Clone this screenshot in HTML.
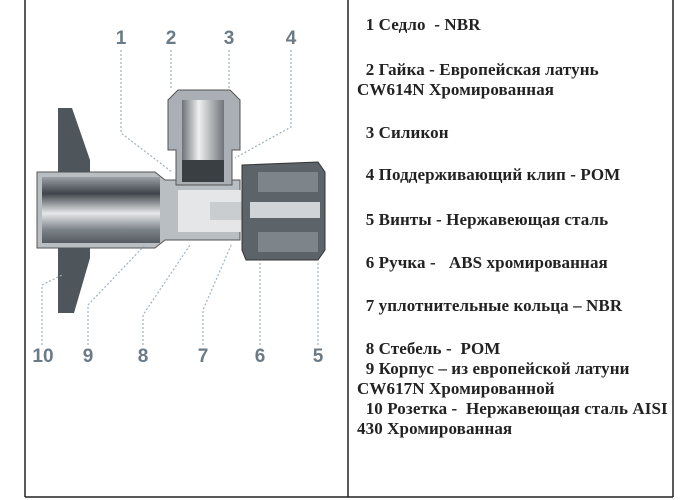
<!DOCTYPE html>
<html><head><meta charset="utf-8"><style>
body{margin:0;background:#fff;width:700px;height:500px;overflow:hidden;position:relative;font-family:"Liberation Serif",serif}
.t{position:absolute;font-weight:bold;font-size:17px;color:#222;white-space:pre;line-height:20px;letter-spacing:0.1px}
</style></head><body>
<svg width="700" height="500" style="position:absolute;left:0;top:0">
<defs>
<linearGradient id="pipe" x1="0" y1="0" x2="0" y2="1">
<stop offset="0" stop-color="#9aa0a6"/><stop offset="0.25" stop-color="#3e444a"/><stop offset="0.55" stop-color="#e6e8ea"/><stop offset="0.8" stop-color="#7b8288"/><stop offset="1" stop-color="#555b60"/></linearGradient>
<linearGradient id="nut" x1="0" y1="0" x2="1" y2="0">
<stop offset="0" stop-color="#6d7378"/><stop offset="0.4" stop-color="#eef0f1"/><stop offset="1" stop-color="#70767b"/></linearGradient>
</defs>
<line x1="25" y1="0" x2="25" y2="497" stroke="#222" stroke-width="1.5"/>
<line x1="348" y1="0" x2="348" y2="497" stroke="#222" stroke-width="1.5"/>
<line x1="673" y1="0" x2="673" y2="497" stroke="#222" stroke-width="1.5"/>
<line x1="25" y1="497" x2="673" y2="497" stroke="#222" stroke-width="1.5"/>
<path d="M58 108 L72 108 L90 160 L90 172 L58 172 Z" fill="#4e555b"/>
<path d="M58 248 L90 248 L90 258 L74 313 L58 313 Z" fill="#4e555b"/>
<path d="M37 172 L155 172 L165 180 L240 180 L240 240 L165 240 L155 248 L37 248 Z" fill="#b9bec2" stroke="#555" stroke-width="1"/>
<rect x="42" y="177" width="118" height="66" fill="url(#pipe)"/>
<rect x="178" y="190" width="70" height="42" fill="#e4e6e8"/>
<rect x="210" y="202" width="70" height="18" fill="#c9cdd0"/>
<path d="M168 100 L178 90 L230 90 L240 100 L240 150 L232 150 L232 185 L176 185 L176 150 L168 150 Z" fill="#a9afb4" stroke="#555"/>
<rect x="182" y="100" width="42" height="60" fill="url(#nut)"/>
<rect x="182" y="160" width="42" height="22" fill="#3a3f44"/>
<path d="M242 165 L318 162 L325 172 L325 250 L318 260 L246 260 L242 250 Z" fill="#5c6369" stroke="#333"/>
<rect x="258" y="172" width="60" height="20" fill="#7d848a"/>
<rect x="258" y="232" width="60" height="20" fill="#7d848a"/>
<rect x="250" y="202" width="70" height="16" fill="#d0d4d7"/>
<g stroke="#9fb2bf" stroke-width="1.2" stroke-dasharray="2,2" fill="none">
<path d="M121 50 L121 133 L172 172"/>
<path d="M171 50 L171 90"/>
<path d="M229 50 L229 90"/>
<path d="M291 50 L291 127 L235 158"/>
<path d="M42 345 L42 285 L62 275"/>
<path d="M88 345 L88 305 L145 245"/>
<path d="M143 345 L143 315 L190 245"/>
<path d="M203 345 L203 310 L232 243"/>
<path d="M260 345 L260 262"/>
<path d="M318 345 L318 262"/>
</g>
<g font-family="Liberation Sans,sans-serif" font-weight="bold" font-size="19" fill="#6a7a86" text-anchor="middle">
<text x="121" y="44">1</text><text x="171" y="44">2</text><text x="229" y="44">3</text><text x="291" y="44">4</text>
<text x="43" y="362">10</text><text x="88" y="362">9</text><text x="143" y="362">8</text><text x="203" y="362">7</text><text x="260" y="362">6</text><text x="318" y="362">5</text>
</g>
</svg>
<div class="t" style="left:357px;top:15px">  1 Седло  - NBR</div>
<div class="t" style="left:357px;top:60px">  2 Гайка - Европейская латунь
CW614N Хромированная</div>
<div class="t" style="left:357px;top:123px">  3 Силикон</div>
<div class="t" style="left:357px;top:165px">  4 Поддерживающий клип - POM</div>
<div class="t" style="left:357px;top:210px">  5 Винты - Нержавеющая сталь</div>
<div class="t" style="left:357px;top:253px">  6 Ручка -   ABS хромированная</div>
<div class="t" style="left:357px;top:296px">  7 уплотнительные кольца – NBR</div>
<div class="t" style="left:357px;top:339px">  8 Стебель -  POM
  9 Корпус – из европейской латуни
CW617N Хромированной
  10 Розетка -  Нержавеющая сталь AISI
430 Хромированная</div>
</body></html>
